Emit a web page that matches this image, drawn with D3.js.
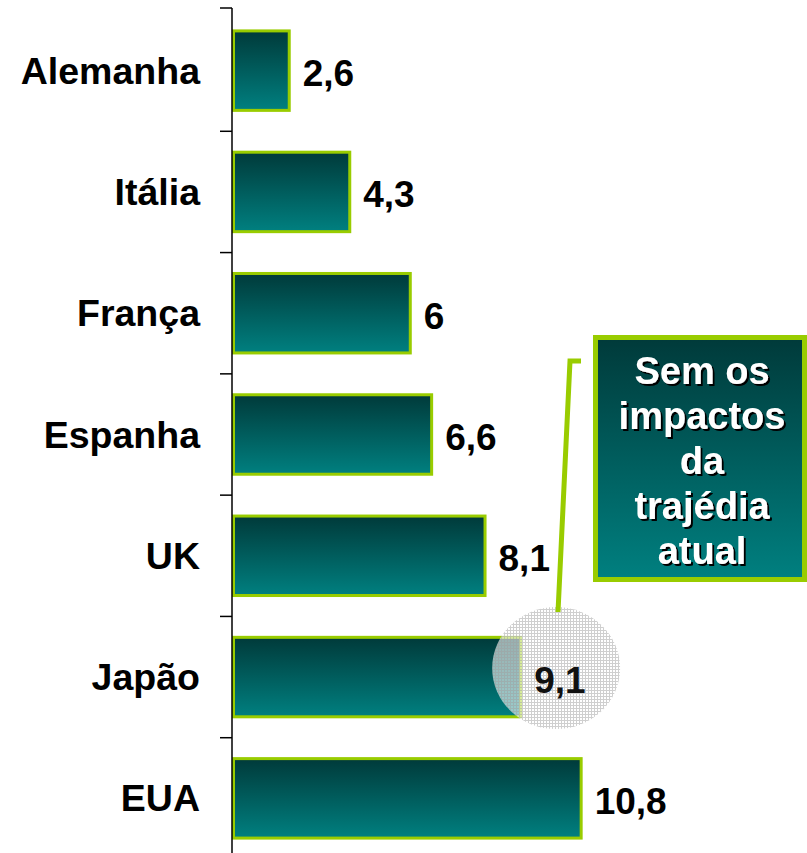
<!DOCTYPE html>
<html><head><meta charset="utf-8">
<script src="https://cdn.jsdelivr.net/npm/d3@7"></script>
<style>body{margin:0;background:#fff;} svg{display:block;}</style>
</head><body>
<script>
const categories = ["Alemanha","Itália","França","Espanha","UK","Japão","EUA"];
const values = [2.6, 4.3, 6, 6.6, 8.1, 9.1, 10.8];
const valueLabels = ["2,6","4,3","6","6,6","8,1","9,1","10,8"];
const calloutLines = ["Sem os","impactos","da","trajédia","atual"];
const highlighted = "Japão";

const W = 807, H = 853;
const svg = d3.select("body").append("svg").attr("width", W).attr("height", H);
const defs = svg.append("defs");
const g1 = defs.append("linearGradient").attr("id","barGrad").attr("x1",0).attr("y1",0).attr("x2",0).attr("y2",1);
g1.append("stop").attr("offset","0%").attr("stop-color","#003a3a");
g1.append("stop").attr("offset","100%").attr("stop-color","#008080");
const pat = defs.append("pattern").attr("id","hatch").attr("patternUnits","userSpaceOnUse").attr("width",3).attr("height",3);
pat.append("rect").attr("width",3).attr("height",3).attr("fill","rgba(255,255,255,0.6)");
pat.append("rect").attr("x",0).attr("y",0).attr("width",3).attr("height",1).attr("fill","rgba(160,160,160,0.5)");
pat.append("rect").attr("x",0).attr("y",1).attr("width",1).attr("height",2).attr("fill","rgba(160,160,160,0.5)");
const sh = defs.append("filter").attr("id","shadow").attr("x","-10%").attr("y","-10%").attr("width","130%").attr("height","130%");
sh.append("feDropShadow").attr("dx",2).attr("dy",2).attr("stdDeviation",0.3).attr("flood-color","#000").attr("flood-opacity",1);

const x0 = 232;
const x = d3.scaleLinear().domain([0.95, 12]).range([x0, x0 + 11.05*35.6]);
const y = d3.scaleBand().domain(categories).range([10, 859]).paddingInner(0.32).paddingOuter(0.16);
const yb = d3.scaleBand().domain(categories).range([10, 859]);

const font = "'Liberation Sans', Arial, sans-serif";

// bars
svg.append("g").selectAll("rect").data(values).join("rect")
  .attr("x", x0 + 1.5)
  .attr("y", (d,i) => y(categories[i]) + 1.5)
  .attr("width", d => x(d) - x0 - 3)
  .attr("height", y.bandwidth() - 3)
  .attr("fill", "url(#barGrad)")
  .attr("stroke", "#99cc00").attr("stroke-width", 3);

// axis
const axis = d3.axisLeft(yb).tickSize(0).tickFormat(() => "");
const ag = svg.append("g").attr("transform", `translate(${x0},0)`).call(axis);
ag.select(".domain").remove();
ag.append("line").attr("x1",0).attr("x2",0).attr("y1",8).attr("y2",H).attr("stroke","#000").attr("stroke-width",1.5);
const bounds = categories.map(c => yb(c));
bounds[0] = 8;
ag.selectAll(".bt").data(bounds).join("line").attr("class","bt")
  .attr("x1",-12).attr("x2",0).attr("y1",d=>d).attr("y2",d=>d)
  .attr("stroke","#000").attr("stroke-width",1.5);

// category labels
svg.append("g").selectAll("text").data(categories).join("text")
  .attr("x", 200).attr("y", c => y(c) + y.bandwidth()/2)
  .attr("text-anchor","end").attr("dominant-baseline","central")
  .style("font-family", font).style("font-weight","bold").style("font-size","37.5px")
  .attr("fill","#000").text(d => d);

// highlight circle
const hi = categories.indexOf(highlighted);
const cx = x(values[hi]) + 34, cy = y(highlighted) + y.bandwidth()/2 - 9;
svg.append("ellipse").attr("cx", cx).attr("cy", cy).attr("rx", 64).attr("ry", 61)
  .attr("fill","url(#hatch)");

// value labels
svg.append("g").selectAll("text").data(values).join("text")
  .attr("x", d => x(d) + 12).attr("y", (d,i) => y(categories[i]) + y.bandwidth()/2 + 3)
  .attr("dominant-baseline","central")
  .style("font-family", font).style("font-weight","bold").style("font-size","37px")
  .attr("fill", (d,i) => categories[i] === highlighted ? "#111" : "#000")
  .text((d,i) => valueLabels[i]);

// connector
svg.append("polyline").attr("points", `581,361 570,361 558,612`)
  .attr("fill","none").attr("stroke","#99cc00").attr("stroke-width",5);

// callout box
svg.append("rect").attr("x",595.5).attr("y",337.5).attr("width",209).attr("height",242)
  .attr("fill","url(#barGrad)").attr("stroke","#99cc00").attr("stroke-width",5);
svg.append("g").attr("filter","url(#shadow)").selectAll("text").data(calloutLines).join("text")
  .attr("x", 702).attr("y", (d,i) => 371 + i*45)
  .attr("text-anchor","middle").attr("dominant-baseline","central")
  .style("font-family", font).style("font-weight","bold").style("font-size","38px")
  .attr("fill","#fff").text(d => d);
</script>
</body></html>
